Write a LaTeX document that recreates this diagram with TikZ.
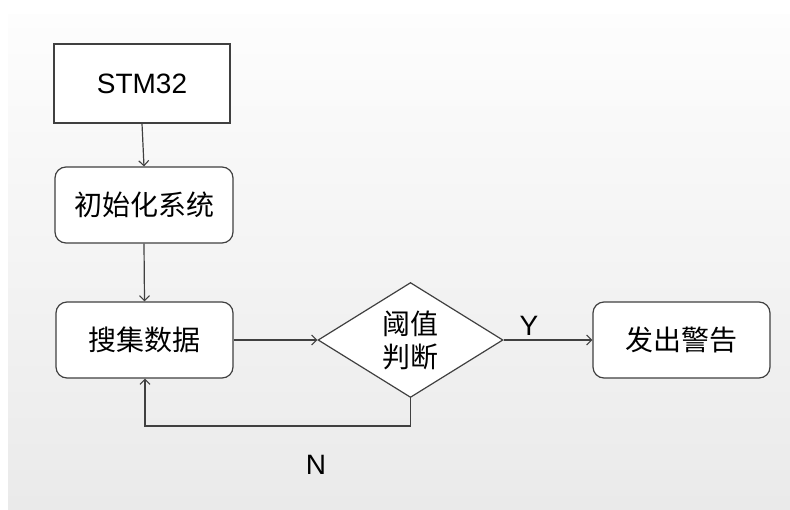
\documentclass[tikz,border=0pt]{standalone}
\usepackage{fontspec}
\setmainfont{Liberation Sans}
\newfontfamily\cjk{Noto Sans CJK SC}
\usetikzlibrary{shapes.geometric,arrows.meta}
\definecolor{linegray}{HTML}{404040}
\definecolor{bgtop}{HTML}{FDFDFD}
\definecolor{bgbot}{HTML}{EAEAEA}
\tikzset{
  box/.style={draw=linegray, line width=1.2pt, fill=white, inner sep=0pt,
    minimum width=177pt, minimum height=76pt, font=\cjk\fontsize{28}{33}\selectfont},
  rbox/.style={box, rounded corners=11pt},
  decide/.style={diamond, draw=linegray, line width=1.2pt, fill=white, inner sep=0pt,
    minimum width=185pt, minimum height=114pt, align=center,
    font=\cjk\fontsize{28}{33}\selectfont},
  conn/.style={draw=linegray, line width=1.2pt, -{Straight Barb[length=5pt,width=10pt,line width=1.1pt]}},
  lbl/.style={font=\fontsize{28}{32}\selectfont, inner sep=0pt}
}
\begin{document}
\begin{tikzpicture}[x=1pt,y=-1pt]
\useasboundingbox (0,0) rectangle (790,509);
\shade[top color=bgtop, bottom color=bgbot] (8,14) rectangle (790,509);
\node[box, minimum width=176pt, minimum height=79pt, font=\fontsize{28}{32}\selectfont] (stm) at (142,83.5) {STM32};
\node[rbox, minimum width=178pt] (init) at (144,205) {初始化系统};
\node[rbox] (collect) at (144.5,340) {搜集数据};
\node[decide] (judge) at (410.5,340) {阈值\\判断};
\node[rbox] (alarm) at (681.5,340) {发出警告};
\coordinate (loop) at (145,426);
\draw[conn] (stm.south) -- (init.north);
\draw[conn] (init.south) -- (collect.north);
\draw[conn] (collect.east) -- (judge.west);
\draw[conn] (judge.east) -- (alarm.west);
\draw[conn] (judge.south) |- (loop) -- (loop |- collect.south);
\node[lbl] (ylab) at (529,326) {Y};
\node[lbl] (nlab) at (316,465) {N};
\end{tikzpicture}
\end{document}
